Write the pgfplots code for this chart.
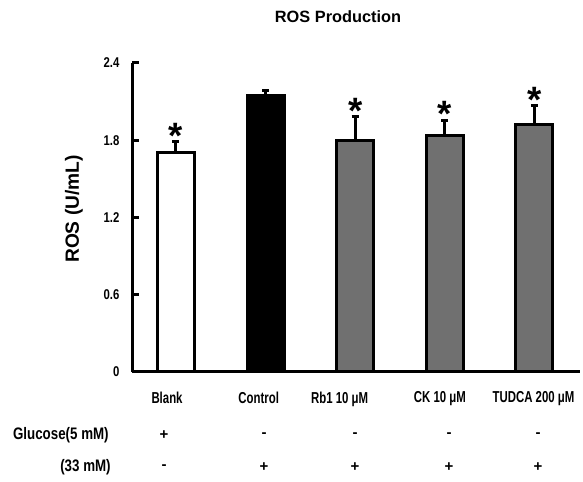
\documentclass[border=0pt]{standalone}
\usepackage{fontspec}
\setmainfont{Liberation Sans}
\newfontfamily\condA{Liberation Sans}[FakeStretch=0.8]
\newfontfamily\condB{Liberation Sans}[FakeStretch=0.72]
\usepackage{pgfplots}
\pgfplotsset{compat=1.18}
\definecolor{barGray}{RGB}{112,112,112}
\begin{document}
\begin{tikzpicture}[x=1pt,y=1pt]
\useasboundingbox (0,0) rectangle (349.8,288.6);
\begin{axis}[
  at={(79.2pt,65.4pt)}, anchor=south west,
  scale only axis, width=268.8pt, height=185.4pt,
  xmin=-0.491, xmax=4.509, ymin=0, ymax=2.4,
  axis x line*=bottom, axis y line*=left,
  axis line style={line width=1.8pt, -},
  ytick={0,0.6,1.2,1.8,2.4},
  yticklabels={0,0.6,1.2,1.8,2.4},
  yticklabel style={font=\condA\bfseries\fontsize{8.5}{9}\selectfont, xshift=-4pt},
  ytick style={line width=1.8pt, black},
  major tick length=4.2pt, tick align=inside,
  xtick={-0.1,0.923,1.827,2.946,3.99},
  xticklabels={Blank,Control,Rb1 10 μM,CK 10 μM,TUDCA 200 μM},
  xticklabel style={font=\condB\bfseries\fontsize{9.5}{10}\selectfont, yshift=-4pt},
  x tick style={draw=none},
  ybar, bar width=22.2pt, bar shift=0pt,
  clip=false,
]
\addplot[fill=white, draw=black, line width=1.8pt,
  error bars/.cd, y dir=plus, y explicit,
  error bar style={line width=1.8pt, black},
  error mark options={rotate=90, mark size=2.1pt, line width=1.8pt, black}]
  coordinates {(0,1.706) +- (0,0.082)};
\addplot[fill=black, draw=black, line width=1.8pt,
  error bars/.cd, y dir=plus, y explicit,
  error bar style={line width=1.8pt, black},
  error mark options={rotate=90, mark size=2.1pt, line width=1.8pt, black}]
  coordinates {(1,2.144) +- (0,0.041)};
\addplot[fill=barGray, draw=black, line width=1.8pt,
  error bars/.cd, y dir=plus, y explicit,
  error bar style={line width=1.8pt, black},
  error mark options={rotate=90, mark size=2.1pt, line width=1.8pt, black}]
  coordinates {(2,1.800) +- (0,0.183) (3,1.835) +- (0,0.122) (4,1.924) +- (0,0.142)};
\foreach \xx/\yy in {0/1.788,2/1.983,3/1.957,4/2.066}{
  \edef\temp{\noexpand\node[anchor=base, inner sep=0pt, yshift=-4.1pt, font=\noexpand\bfseries\noexpand\fontsize{22}{22}\noexpand\selectfont] at (axis cs:\xx,\yy) {*};}
  \temp
}
\end{axis}
% title and y label
\node[font=\bfseries\fontsize{9.8}{11}\selectfont] at (202.8,278.4) {ROS Production};
\node[rotate=90, font=\bfseries\fontsize{11.5}{13}\selectfont] at (44.4,163.2) {ROS (U/mL)};
% glucose rows
\node[anchor=east, inner sep=0pt, font=\condA\bfseries\fontsize{10}{11}\selectfont] at (65.4,27.6) {Glucose(5 mM)};
\node[anchor=east, inner sep=0pt, font=\condA\bfseries\fontsize{10}{11}\selectfont] at (66.6,8.4) {(33 mM)};
\foreach \px/\a/\b in {164/+/-,264/-/+,355/-/+,449/-/+,538/-/+}{
  \node[inner sep=0pt, font=\bfseries\fontsize{9}{10}\selectfont] at (\px*0.6,27.6) {\a};
  \node[inner sep=0pt, font=\bfseries\fontsize{9}{10}\selectfont] at (\px*0.6,8.4) {\b};
}
\end{tikzpicture}
\end{document}
